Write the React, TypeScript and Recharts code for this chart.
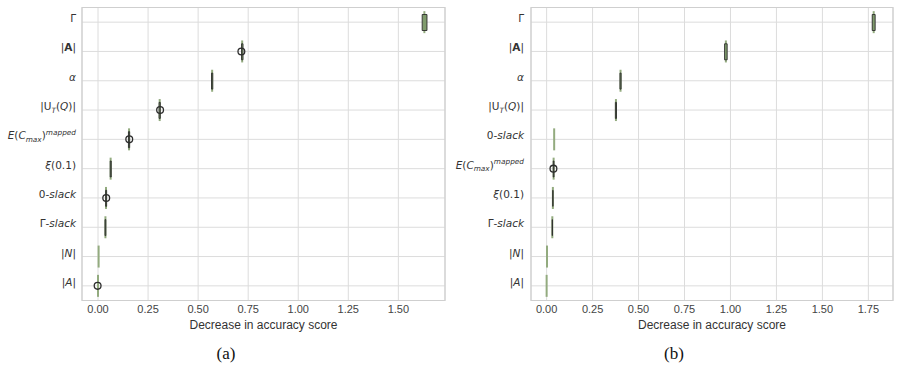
import React from 'react';
import {
  ComposedChart,
  XAxis,
  YAxis,
  CartesianGrid,
  Bar,
  Scatter,
  ReferenceArea,
} from 'recharts';

// Rich-text pieces for the feature names (math-style labels)
type Seg = { t: string; i?: boolean; b?: boolean; sub?: boolean; sup?: boolean };

const FEATURE_LABELS: Record<string, Seg[]> = {
  gamma: [{ t: 'Γ' }],
  absBold: [{ t: '|' }, { t: 'A', b: true }, { t: '|' }],
  alpha: [{ t: 'α', i: true }],
  uq: [{ t: '|U' }, { t: 'T', i: true, sub: true }, { t: '(' }, { t: 'Q', i: true }, { t: ')|' }],
  ecmax: [
    { t: 'E', i: true },
    { t: '(' },
    { t: 'C', i: true },
    { t: 'max', i: true, sub: true },
    { t: ')' },
    { t: 'mapped', i: true, sup: true },
  ],
  xi: [{ t: 'ξ', i: true }, { t: '(0.1)' }],
  zeroSlack: [{ t: '0-' }, { t: 'slack', i: true }],
  gammaSlack: [{ t: 'Γ-' }, { t: 'slack', i: true }],
  absN: [{ t: '|' }, { t: 'N', i: true }, { t: '|' }],
  absA: [{ t: '|' }, { t: 'A', i: true }, { t: '|' }],
};

// ---- Panel (a) ----
const categoriesA = ['gamma', 'absBold', 'alpha', 'uq', 'ecmax', 'xi', 'zeroSlack', 'gammaSlack', 'absN', 'absA'];
const medianA = [1.63, 0.72, 0.57, 0.308, 0.155, 0.063, 0.04, 0.037, 0.003, 0.0];
const q1A = [1.619, 0.717, 0.567, 0.305, 0.152, 0.061, 0.038, 0.035, 0.003, 0.0];
const q3A = [1.643, 0.724, 0.573, 0.311, 0.158, 0.066, 0.043, 0.039, 0.003, 0.0];
const outlierA: (number | null)[] = [null, 0.716, null, 0.31, 0.156, null, 0.041, null, null, -0.002];
const ticksA = [0, 0.25, 0.5, 0.75, 1.0, 1.25, 1.5];
const domainA: [number, number] = [-0.08, 1.733];

// ---- Panel (b) ----
const categoriesB = ['gamma', 'absBold', 'alpha', 'uq', 'zeroSlack', 'ecmax', 'xi', 'gammaSlack', 'absN', 'absA'];
const medianB = [1.779, 0.975, 0.402, 0.377, 0.041, 0.038, 0.034, 0.031, 0.002, 0.0];
const q1B = [1.771, 0.968, 0.399, 0.374, 0.041, 0.036, 0.0335, 0.0305, 0.002, 0.0];
const q3B = [1.787, 0.982, 0.405, 0.38, 0.041, 0.04, 0.0345, 0.0315, 0.002, 0.0];
const outlierB: (number | null)[] = [null, null, null, null, null, 0.037, null, null, null, null];
const ticksB = [0, 0.25, 0.5, 0.75, 1.0, 1.25, 1.5, 1.75];
const domainB: [number, number] = [-0.085, 1.884];

const AXIS_TITLE = 'Decrease in accuracy score';

const GRID = '#dcdcdc';
const FRAME = '#cfcfcf';
const WHISKER = '#93ab7f';
const BOX_FILL = '#7f9b6c';
const BOX_EDGE = '#2d2d2d';

const LABEL_SIZE = 10.5;

function FeatureTick(props: any) {
  const { x, y, payload } = props;
  const segs = FEATURE_LABELS[payload.value] || [{ t: String(payload.value) }];
  let offset = 0;
  return (
    <text
      x={x}
      y={y}
      dy="0.36em"
      textAnchor="end"
      fill="#333"
      fontFamily="DejaVu Sans"
      fontSize={LABEL_SIZE}
    >
      {segs.map((s, k) => {
        const target = s.sub ? 2.8 : s.sup ? -4.4 : 0;
        const dy = target - offset;
        offset = target;
        return (
          <tspan
            key={k}
            dy={dy}
            fontStyle={s.i ? 'italic' : 'normal'}
            fontWeight={s.b ? 'bold' : 'normal'}
            fontSize={s.sub || s.sup ? LABEL_SIZE * 0.7 : LABEL_SIZE}
          >
            {s.t}
          </tspan>
        );
      })}
    </text>
  );
}

const ok = (v: any) => typeof v === 'number' && Number.isFinite(v);

const WhiskerMark = (p: any) =>
  !ok(p.cx) || !ok(p.cy) ? null : (
    <line x1={p.cx} x2={p.cx} y1={p.cy - 11} y2={p.cy + 11} stroke={WHISKER} strokeWidth={2} />
  );

const OutlierMark = (p: any) =>
  !ok(p.cx) || !ok(p.cy) || p.payload?.out == null ? null : (
    <circle cx={p.cx} cy={p.cy} r={3.4} fill="none" stroke={BOX_EDGE} strokeWidth={1.3} />
  );

type PanelProps = {
  categories: string[];
  median: number[];
  q1: number[];
  q3: number[];
  outlier: (number | null)[];
  ticks: number[];
  domain: [number, number];
  yAxisWidth: number;
  rightMargin: number;
  tickGap: number;
};

function ImportancePanel(props: PanelProps) {
  const rows = props.categories.map((name, k) => ({
    name,
    med: props.median[k],
    box: [props.q1[k], props.q3[k]],
    out: props.outlier[k],
  }));

  return (
    <ComposedChart
      width={450}
      height={369}
      data={rows}
      layout="vertical"
      margin={{ top: 7.5, right: props.rightMargin, bottom: 38.5, left: 0 }}
    >
      <CartesianGrid stroke={GRID} strokeWidth={1} />
      <ReferenceArea
        x1={props.domain[0]}
        x2={props.domain[1]}
        fill="none"
        stroke={FRAME}
        strokeWidth={1.2}
        ifOverflow="extendDomain"
      />
      <XAxis
        type="number"
        domain={props.domain}
        allowDataOverflow
        ticks={props.ticks}
        tickFormatter={(v: number) => v.toFixed(2)}
        axisLine={false}
        tickLine={false}
        tickSize={0}
        tickMargin={5}
        height={30}
        tick={{ fill: '#444', fontSize: 11, fontFamily: 'Liberation Sans' }}
        label={{
          value: AXIS_TITLE,
          position: 'insideBottom',
          offset: 2,
          fill: '#333',
          fontSize: 12,
          fontFamily: 'Liberation Sans',
        }}
      />
      <YAxis
        type="category"
        dataKey="name"
        width={props.yAxisWidth}
        axisLine={false}
        tickLine={false}
        tickSize={0}
        tickMargin={props.tickGap}
        interval={0}
        tick={(p: any) => <FeatureTick {...p} />}
      />
      <Scatter dataKey="med" shape={WhiskerMark} isAnimationActive={false} zIndex={250} />
      <Bar
        dataKey="box"
        barSize={16}
        fill={BOX_FILL}
        stroke={BOX_EDGE}
        strokeWidth={0.9}
        isAnimationActive={false}
      />
      <Scatter dataKey="out" shape={OutlierMark} isAnimationActive={false} />
    </ComposedChart>
  );
}

const captionStyle: React.CSSProperties = {
  position: 'absolute',
  top: 344,
  width: 60,
  textAlign: 'center',
  fontFamily: 'Liberation Serif',
  fontSize: 17,
  lineHeight: '20px',
  color: '#111',
};

export default function App() {
  return (
    <div
      style={{
        position: 'absolute',
        left: 0,
        top: 0,
        width: 900,
        height: 369,
        background: '#fff',
        overflow: 'hidden',
      }}
    >
      <div style={{ position: 'absolute', left: 0, top: 0 }}>
        <ImportancePanel
          categories={categoriesA}
          median={medianA}
          q1={q1A}
          q3={q3A}
          outlier={outlierA}
          ticks={ticksA}
          domain={domainA}
          yAxisWidth={82}
          rightMargin={5}
          tickGap={6}
        />
      </div>
      <div style={{ position: 'absolute', left: 450, top: 0 }}>
        <ImportancePanel
          categories={categoriesB}
          median={medianB}
          q1={q1B}
          q3={q3B}
          outlier={outlierB}
          ticks={ticksB}
          domain={domainB}
          yAxisWidth={81}
          rightMargin={7}
          tickGap={7}
        />
      </div>
      <div style={{ ...captionStyle, left: 196 }}>(a)</div>
      <div style={{ ...captionStyle, left: 644 }}>(b)</div>
    </div>
  );
}
